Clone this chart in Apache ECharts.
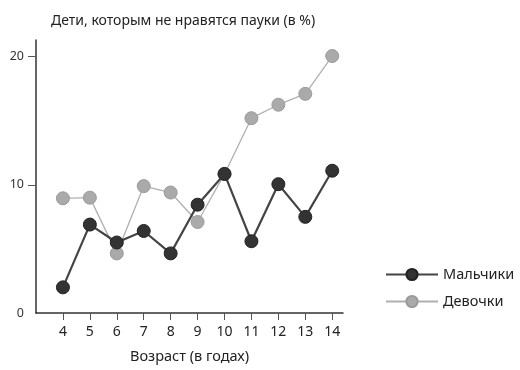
<!DOCTYPE html>
<html><head><meta charset="utf-8">
<script src="https://cdn.jsdelivr.net/npm/echarts@6/dist/echarts.min.js"></script>
<style>html,body{margin:0;padding:0;background:#fff}#c{width:520px;height:370px}</style>
</head><body><div id="c"></div>
<script>
const ages = [4,5,6,7,8,9,10,11,12,13,14];
const boys = [2.0,6.9,5.5,6.4,4.65,8.45,10.85,5.6,10.05,7.5,11.1];
const girls = [8.95,9.0,4.65,9.9,9.4,7.1,10.85,15.2,16.25,17.1,20.05];
const yTicks = [0,10,20];
const seriesNames = ['Мальчики','Девочки'];

const chart = echarts.init(document.getElementById('c'));
const font = 'Noto Sans';
chart.setOption({
  animation:false,
  title:{text:'Дети, которым не нравятся пауки (в %)', left:46, top:9,
    textStyle:{fontFamily:font,fontSize:14,fontWeight:'normal',color:'#222'}},
  grid:{left:36,right:177,top:40,bottom:57},
  legend:{orient:'vertical',left:380,top:262,itemWidth:52,itemHeight:14,itemGap:12,
    textStyle:{fontFamily:font,fontSize:14.5,color:'#222'},
    data:seriesNames},
  xAxis:{type:'value',min:3,max:14.4,interval:1,
    name:'Возраст (в годах)',nameLocation:'middle',nameGap:36,
    nameTextStyle:{fontFamily:font,fontSize:14.5,color:'#222'},
    axisLine:{lineStyle:{color:'#333',width:1.5}},
    axisTick:{length:7,lineStyle:{color:'#555'},customValues:ages},
    axisLabel:{fontFamily:font,fontSize:14,color:'#222',margin:12,customValues:ages},
    splitLine:{show:false}},
  yAxis:{type:'value',min:0,max:21.3,interval:10,
    axisLine:{show:true,lineStyle:{color:'#333',width:1.5}},
    axisTick:{show:true,length:8,lineStyle:{color:'#555'},customValues:[10,20]},
    axisLabel:{fontFamily:font,fontSize:12.5,color:'#333',margin:12,customValues:yTicks},
    splitLine:{show:false}},
  series:[
    {name:seriesNames[0],type:'line',data:ages.map((a,i)=>[a,boys[i]]),
     symbol:'circle',symbolSize:13,z:3,
     lineStyle:{color:'#444',width:2.2},itemStyle:{color:'#333',borderColor:'#222',borderWidth:1}},
    {name:seriesNames[1],type:'line',data:ages.map((a,i)=>[a,girls[i]]),
     symbol:'circle',symbolSize:13,z:2,
     lineStyle:{color:'#b0b0b0',width:1.3},itemStyle:{color:'#aaa',borderColor:'#999',borderWidth:1}}
  ]
});
</script></body></html>
